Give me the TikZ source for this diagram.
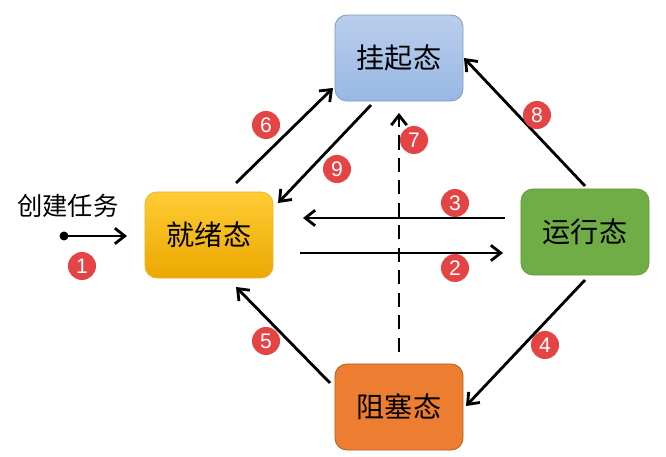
\documentclass[tikz,border=0pt]{standalone}
\usepackage{fontspec}
\setmainfont{Liberation Sans}
\newfontfamily\cjk{Noto Sans CJK SC}
\usepackage{tikz}
\usetikzlibrary{arrows.meta}
\definecolor{suspendtop}{RGB}{186,206,236}
\definecolor{suspendbot}{RGB}{152,184,228}
\definecolor{readytop}{RGB}{255,204,52}
\definecolor{readybot}{RGB}{236,168,0}
\definecolor{runfill}{RGB}{112,173,71}
\definecolor{blockfill}{RGB}{237,125,49}
\definecolor{numred}{RGB}{228,68,68}

\begin{document}
\begin{tikzpicture}[
  x=0.025cm, y=-0.025cm,
  state/.style={rectangle, rounded corners=0.3cm, minimum width=3.2cm,
    minimum height=2.15cm, font=\cjk\fontsize{20}{22}\selectfont, line width=0.6pt},
  suspend/.style={state, draw=suspendbot!85!black, top color=suspendtop, bottom color=suspendbot},
  ready/.style={state, draw=readytop!90!black, top color=readytop, bottom color=readybot},
  running/.style={state, draw=runfill!90!black, fill=runfill},
  blocked/.style={state, draw=blockfill!75!black, fill=blockfill},
  trans/.style={-{Straight Barb[length=7pt,width=11pt]}, line width=2pt},
  num/.style={circle, fill=numred, text=white, minimum size=0.7cm,
    inner sep=0pt, font=\fontsize{15}{15}\selectfont}
]
\useasboundingbox (0,0) rectangle (666,457);

% States
\node[suspend] (gq) at (399,58) {挂起态};
\node[ready]   (jx) at (209,235) {就绪态};
\node[running] (yx) at (585,232) {运行态};
\node[blocked] (zs) at (399,407) {阻塞态};

% Create task
\node[font=\cjk\fontsize{18}{20}\selectfont] (cj) at (68,206) {创建任务};
\fill (64,236) circle (4.5) coordinate (start);
\coordinate (entry) at (127,236);
\draw[trans] (start) -- (entry);

% Free ends of the arrows
\coordinate (a6) at (236,183); \coordinate (b6) at (333,88);
\coordinate (a9) at (371,105); \coordinate (b9) at (278,203);
\coordinate (a7) at (399,352); \coordinate (b7) at (399,113);
\coordinate (a3) at (505,218); \coordinate (b3) at (303,218);
\coordinate (a2) at (300,253); \coordinate (b2) at (503,253);
\coordinate (a8) at (585,186); \coordinate (b8) at (464,58);
\coordinate (a4) at (585,280); \coordinate (b4) at (466,406);
\coordinate (a5) at (330,383); \coordinate (b5) at (236,287);

% Transitions
\foreach \t in {6,9,3,2,8,4,5}
  \draw[trans] (a\t) -- (b\t);
\draw[trans, dash pattern=on 10pt off 6pt] (a7) -- (b7);

% Labels
\node[num] (n1) at (82,266) {1};
\node[num] (n2) at (455,268) {2};
\node[num] (n3) at (455,203) {3};
\node[num] (n4) at (545,345) {4};
\node[num] (n5) at (266,341) {5};
\node[num] (n6) at (266,125) {6};
\node[num] (n7) at (414,140) {7};
\node[num] (n8) at (537,115) {8};
\node[num] (n9) at (337,169) {9};

\end{tikzpicture}
\end{document}
